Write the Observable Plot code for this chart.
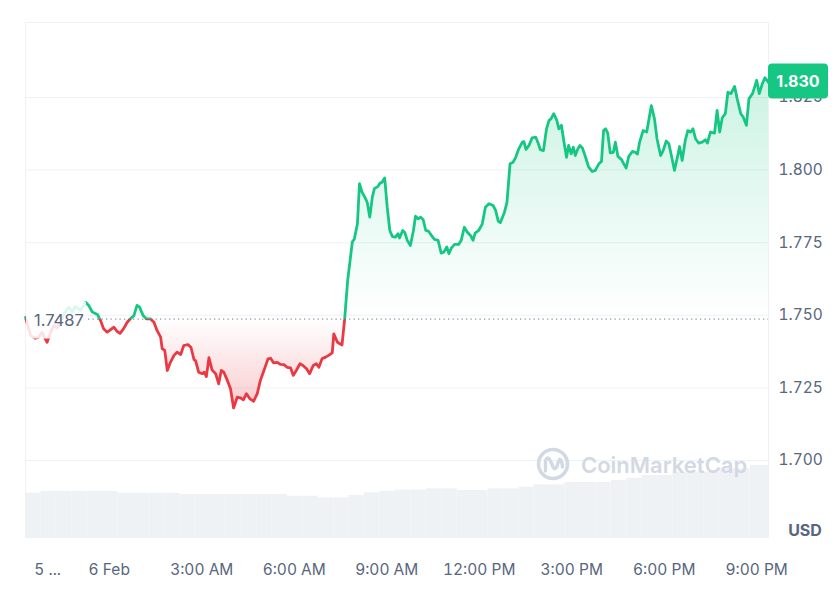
<!DOCTYPE html>
<html>
<head>
<meta charset="utf-8">
<script src="https://cdn.jsdelivr.net/npm/d3@7"></script>
<script src="https://cdn.jsdelivr.net/npm/@observablehq/plot@0.6"></script>
<style>
  body { margin: 0; background: #fff; font-family: Inter, "Noto Sans", sans-serif; }
  #wrap { position: relative; width: 835px; height: 602px; overflow: hidden; }
  #wrap > svg { position: absolute; left: 0; top: 0; }
</style>
</head>
<body>
<div id="wrap"></div>
<script>
// ---------- DATA ----------
const startTime = "2024-02-05T21:17";
const endMinute = 1446;

// minutes since start of each price sample
const minutes = [
  0,10,19,26,32,42,49,55,62,68,
  75,84,91,97,107,117,123,130,140,146,
  152,159,165,172,178,184,191,198,204,211,
  217,222,229,235,243,250,256,263,266,271,
  276,282,289,295,302,308,316,322,328,331,
  337,344,348,352,357,363,370,376,381,386,
  393,399,405,412,418,424,430,437,444,451,
  457,464,472,477,483,490,496,503,509,516,
  521,527,534,540,547,553,560,566,571,577,
  584,590,597,600,607,616,621,627,636,640,
  646,650,655,662,665,670,675,679,686,690,
  694,699,704,709,714,720,725,728,734,738,
  743,749,755,759,764,769,774,779,784,790,
  796,803,809,814,820,824,829,835,843,848,
  854,860,866,871,875,882,889,895,902,910,
  915,920,924,932,937,943,949,954,960,967,
  970,974,980,986,993,997,1002,1008,1014,1019,
  1023,1028,1034,1038,1043,1048,1053,1057,1062,1066,
  1070,1075,1079,1084,1090,1096,1103,1109,1116,1121,
  1125,1129,1133,1138,1144,1148,1153,1160,1166,1169,
  1174,1181,1187,1191,1195,1202,1209,1218,1224,1229,
  1236,1241,1247,1252,1257,1263,1268,1273,1278,1284,
  1289,1294,1299,1304,1310,1317,1323,1327,1333,1341,
  1346,1351,1356,1362,1367,1373,1380,1385,1392,1397,
  1403,1408,1415,1423,1428,1434,1439,1446
];

// price (USD)
const prices = [
  1.7493,1.7430,1.7421,1.7425,1.7442,1.7407,1.7442,1.7465,1.7457,1.7476,
  1.7505,1.7528,1.7511,1.7530,1.7517,1.7545,1.7534,1.7511,1.7503,1.7482,
  1.7454,1.7442,1.7450,1.7459,1.7445,1.7438,1.7454,1.7476,1.7488,1.7499,
  1.7534,1.7528,1.7499,1.7488,1.7488,1.7476,1.7448,1.7425,1.7385,1.7379,
  1.7310,1.7338,1.7362,1.7373,1.7365,1.7396,1.7399,1.7390,1.7347,1.7344,
  1.7304,1.7299,1.7304,1.7289,1.7354,1.7312,1.7299,1.7264,1.7310,1.7304,
  1.7275,1.7247,1.7181,1.7218,1.7216,1.7209,1.7230,1.7212,1.7204,1.7230,
  1.7275,1.7310,1.7350,1.7352,1.7336,1.7338,1.7331,1.7330,1.7321,1.7319,
  1.7293,1.7310,1.7333,1.7327,1.7316,1.7299,1.7327,1.7333,1.7321,1.7350,
  1.7356,1.7362,1.7371,1.7436,1.7407,1.7398,1.7484,1.7620,1.7752,1.7763,
  1.7815,1.7953,1.7924,1.7901,1.7889,1.7838,1.7907,1.7936,1.7944,1.7955,
  1.7958,1.7973,1.7872,1.7792,1.7771,1.7769,1.7781,1.7766,1.7792,1.7786,
  1.7758,1.7740,1.7792,1.7841,1.7832,1.7838,1.7829,1.7792,1.7790,1.7775,
  1.7761,1.7758,1.7714,1.7717,1.7735,1.7712,1.7732,1.7744,1.7744,1.7758,
  1.7803,1.7786,1.7775,1.7758,1.7783,1.7792,1.7815,1.7872,1.7884,1.7878,
  1.7861,1.7824,1.7819,1.7854,1.7889,1.8022,1.8027,1.8044,1.8073,1.8096,
  1.8098,1.8071,1.8085,1.8111,1.8113,1.8096,1.8070,1.8067,1.8142,1.8171,
  1.8177,1.8194,1.8171,1.8142,1.8154,1.8096,1.8044,1.8085,1.8056,1.8079,
  1.8050,1.8073,1.8085,1.8075,1.8044,1.8010,1.7995,1.7999,1.8022,1.8030,
  1.8136,1.8142,1.8128,1.8059,1.8061,1.8096,1.8047,1.8036,1.8016,1.8007,
  1.8047,1.8064,1.8061,1.8055,1.8095,1.8136,1.8131,1.8222,1.8177,1.8108,
  1.8050,1.8067,1.8100,1.8091,1.8050,1.7999,1.8039,1.8081,1.8033,1.8102,
  1.8136,1.8131,1.8142,1.8108,1.8093,1.8096,1.8104,1.8093,1.8131,1.8127,
  1.8205,1.8131,1.8180,1.8194,1.8268,1.8263,1.8288,1.8246,1.8194,1.8182,
  1.8154,1.8246,1.8263,1.8309,1.8263,1.8297,1.8318,1.8302
];

// relative volume per 30-minute bucket (from start)
const volumes = [
  44.3,46,46,46,46,46,44.3,44.3,44.3,44.3,
  43,43,43,43,43,43,43,41.3,41.3,39.7,
  39.7,42,44.7,46,47.3,47.3,48.7,48.7,47,47,
  48.7,48.7,50.3,52.7,52.7,55,55,55,57,59.3,
  62,62,65.3,65.3,65.3,68.7,68.7,72,72
];

const baseline = 1.7487;
const lastPrice = 1.830;
const yTicks = [1.700, 1.725, 1.750, 1.775, 1.800, 1.825];
const tickTimes = ["2024-02-05T22:00","2024-02-06T00:00","2024-02-06T03:00","2024-02-06T06:00","2024-02-06T09:00","2024-02-06T12:00","2024-02-06T15:00","2024-02-06T18:00","2024-02-06T21:00"];
const tickLabels = ["5 ...","6 Feb","3:00 AM","6:00 AM","9:00 AM","12:00 PM","3:00 PM","6:00 PM","9:00 PM"];

// ---------- BUILD ----------
const GREEN = "#16c784", RED = "#ea3943", GREY = "#58667e", GRID = "#eff2f5";
const t0 = new Date(startTime);
const MIN = 60000;
const tEnd = new Date(+t0 + endMinute * MIN);
const data = minutes.map((m, i) => ({time: new Date(+t0 + m * MIN), price: prices[i]}));
const volData = volumes.map((v, i) => ({
  t1: new Date(+t0 + i * 30 * MIN),
  t2: new Date(Math.min(+t0 + (i + 1) * 30 * MIN, +tEnd)),
  v
}));
const tickDates = tickTimes.map(s => new Date(s));
const labelByTime = new Map(tickDates.map((d, i) => [+d, tickLabels[i]]));

const common = {
  width: 835, height: 602,
  marginLeft: 25, marginRight: 67, marginTop: 22, marginBottom: 65
};

const volPlot = Plot.plot({
  ...common,
  marginTop: 437,
  style: {background: "white"},
  x: {type: "time", domain: [t0, tEnd], axis: null},
  y: {domain: [0, 100], axis: null},
  marks: [
    Plot.rectY(volData, {x1: "t1", x2: "t2", y: "v", fill: "#eff2f5", inset: 0})
  ]
});

const pricePlot = Plot.plot({
  ...common,
  style: {background: "transparent", fontFamily: "Inter, 'Noto Sans', sans-serif", fontSize: "15.5px", color: GREY, overflow: "visible"},
  x: {type: "time", domain: [t0, tEnd], ticks: tickDates, tickFormat: d => labelByTime.get(+d), tickSize: 0, tickPadding: 26, label: null},
  y: {domain: [1.6735, 1.8508], axis: "right", ticks: yTicks, tickFormat: d3.format(".3f"), tickSize: 0, tickPadding: 10, label: null},
  marks: [
    Plot.ruleY(yTicks, {stroke: GRID, strokeWidth: 1}),
    Plot.frame({stroke: GRID}),
    Plot.areaY(data, {x: "time", y1: baseline, y2: "price", fill: "url(#cmcFill)"}),
    Plot.ruleY([baseline], {stroke: "#8e97a8", strokeWidth: 1.3, strokeDasharray: "1.3,3.2"}),
    Plot.lineY(data, {x: "time", y: "price", stroke: "url(#cmcStroke)", strokeWidth: 2.8, strokeLinejoin: "round", strokeLinecap: "round"})
  ]
});

// ---------- DECORATION using library scales ----------
const ns = "http://www.w3.org/2000/svg";
function el(tag, attrs, parent) {
  const e = document.createElementNS(ns, tag);
  for (const k in attrs) e.setAttribute(k, attrs[k]);
  if (parent) parent.appendChild(e);
  return e;
}
const ys = pricePlot.scale("y"), xs = pricePlot.scale("x");
const baseY = ys.apply(baseline);
const H = 602;
const defs = el("defs", {});
pricePlot.insertBefore(defs, pricePlot.firstChild);

const sg = el("linearGradient", {id: "cmcStroke", gradientUnits: "userSpaceOnUse", x1: 0, y1: 0, x2: 0, y2: H}, defs);
el("stop", {offset: baseY / H, "stop-color": GREEN}, sg);
el("stop", {offset: baseY / H, "stop-color": RED}, sg);

const yTop = ys.apply(d3.max(prices)), yBot = ys.apply(d3.min(prices));
const fb = (baseY - yTop) / (yBot - yTop);
const fg = el("linearGradient", {id: "cmcFill", gradientUnits: "userSpaceOnUse", x1: 0, y1: yTop, x2: 0, y2: yBot}, defs);
el("stop", {offset: 0, "stop-color": GREEN, "stop-opacity": 0.22}, fg);
el("stop", {offset: fb, "stop-color": GREEN, "stop-opacity": 0.0}, fg);
el("stop", {offset: fb, "stop-color": RED, "stop-opacity": 0.0}, fg);
el("stop", {offset: 1, "stop-color": RED, "stop-opacity": 0.26}, fg);

// fade box + baseline label
const x0 = xs.apply(t0);
el("rect", {x: x0 + 1, y: baseY - 17, width: 60, height: 37, fill: "white", "fill-opacity": 0.85}, pricePlot);
const bl = el("text", {x: x0 + 9, y: baseY + 7.5, "text-anchor": "start", "font-size": 16.5, fill: GREY}, pricePlot);
bl.textContent = baseline.toFixed(4);

// current price tag
const ly = ys.apply(lastPrice);
const xr = xs.apply(tEnd);
el("rect", {x: xr, y: ly - 19, width: 60, height: 35, rx: 4, fill: GREEN}, pricePlot);
const tag = el("text", {x: xr + 30, y: ly + 4.5, "text-anchor": "middle", "font-size": 16, "font-weight": "bold", fill: "white"}, pricePlot);
tag.textContent = lastPrice.toFixed(3);

// currency label
const usd = el("text", {x: 805, y: 536, "text-anchor": "middle", "font-size": 16, "font-weight": "bold", fill: GREY}, pricePlot);
usd.textContent = "USD";

// watermark
const wm = el("g", {}, pricePlot);
el("circle", {cx: 553, cy: 464, r: 14.5, fill: "none", stroke: "#d3d9e4", "stroke-width": 3.6}, wm);
el("path", {d: "M545.5,471 L545.5,461 Q547.5,455 550.5,461 L553,467 Q555.5,472 558,463 Q560,456 562,463 L562.5,467", fill: "none", stroke: "#d3d9e4", "stroke-width": 3.4, "stroke-linecap": "round", "stroke-linejoin": "round"}, wm);
const wt = el("text", {x: 581, y: 473, "text-anchor": "start", "font-size": 22, "font-weight": 600, fill: "#d3d9e4"}, wm);
wt.textContent = "CoinMarketCap";

const wrap = document.getElementById("wrap");
wrap.appendChild(volPlot);
wrap.appendChild(pricePlot);
</script>
</body>
</html>
